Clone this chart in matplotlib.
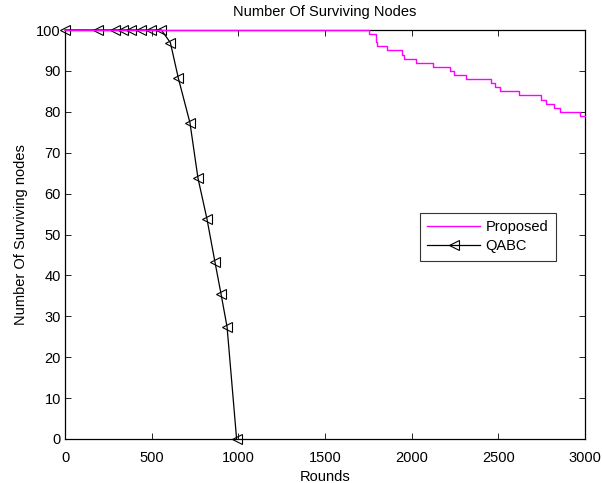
import matplotlib
matplotlib.use("Agg")
import matplotlib.pyplot as plt

plt.rcParams['font.family'] = ['Liberation Sans', 'DejaVu Sans']

# QABC (line with markers at each point)
qabc_rounds = [0, 189, 286, 332, 383, 441, 499, 556, 608, 654, 721, 767, 819, 865, 900, 935, 990]
qabc_alive = [100, 100, 100, 100, 100, 100, 100, 100, 96.9, 88.2, 77.3, 63.8, 53.8, 43.3, 35.5, 27.4, 0]

# Proposed (step curve)
prop_rounds = [0, 1754, 1793, 1800, 1856, 1942, 1956, 2026, 2123, 2219, 2243, 2311,
               2455, 2483, 2507, 2618, 2748, 2775, 2819, 2858, 2973, 3000]
prop_alive = [100, 99, 97, 96, 95, 94, 93, 92, 91, 90, 89, 88,
              87, 86, 85, 84, 83, 82, 81, 80, 79, 79]

x_ticks = [0, 500, 1000, 1500, 2000, 2500, 3000]
y_ticks = [0, 10, 20, 30, 40, 50, 60, 70, 80, 90, 100]

FS = 10.5
fig = plt.figure(figsize=(6.02, 4.83), dpi=100)
ax = fig.add_axes([65/602, 44/483, 520/602, 409/483])

ax.step(prop_rounds, prop_alive, where='post', color='#FF00FF', lw=1.0,
        label='Proposed', zorder=4, clip_on=False)
ax.plot(qabc_rounds, qabc_alive, color='black', lw=0.9, marker='<', ms=7,
        mfc='none', mec='black', mew=0.8, label='QABC', zorder=3, clip_on=False)

ax.set_xlim(0, 3000)
ax.set_ylim(0, 100)
ax.set_xticks(x_ticks)
ax.set_yticks(y_ticks)
ax.tick_params(axis='x', direction='in', top=True, labelsize=FS, length=4, width=0.6, pad=9)
ax.tick_params(axis='y', direction='in', right=True, labelsize=FS, length=4, width=0.6, pad=3)
for s in ax.spines.values():
    s.set_linewidth(0.9)

ax.set_title('Number Of Surviving Nodes', fontsize=FS, pad=10)
ax.set_xlabel('Rounds', fontsize=FS, labelpad=3)
ax.set_ylabel('Number Of Surviving nodes', fontsize=FS, labelpad=6)

leg = ax.legend(loc='upper left', bbox_to_anchor=(355/520, (439-213)/409), fontsize=FS,
                frameon=True, fancybox=False, edgecolor='black', borderpad=0.5,
                handlelength=3.6, handletextpad=0.4, labelspacing=0.35, borderaxespad=0)
leg.get_frame().set_linewidth(0.8)

fig.savefig('out.png', dpi=100)
